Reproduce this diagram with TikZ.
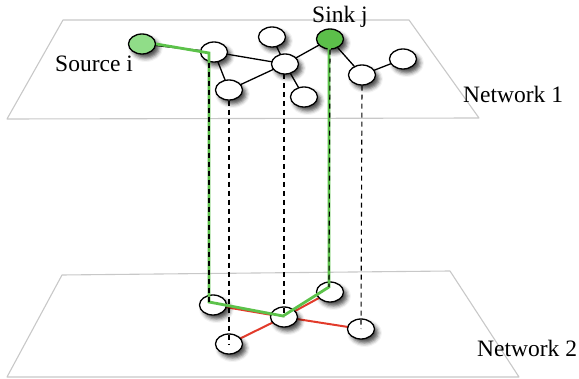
\documentclass[tikz,border=0pt]{standalone}
\usepackage{fontspec}
\setmainfont{Liberation Serif}
\usetikzlibrary{shapes.geometric,shadows.blur}
\definecolor{planegray}{HTML}{C8C8C8}
\definecolor{pathgreen}{HTML}{5CC24A}
\definecolor{srcgreen}{HTML}{90DD88}
\definecolor{sinkgreen}{HTML}{5CBF4A}
\definecolor{linkred}{HTML}{E23B2B}
\tikzset{
  plane/.style={draw=planegray, line width=1.1pt, line join=round},
  vtx/.style={ellipse, draw=black, line width=1.3pt, fill=white, inner sep=0pt,
    minimum width=27pt, minimum height=20pt,
    blur shadow={shadow xshift=3.5pt, shadow yshift=-4pt, shadow blur radius=4pt, shadow opacity=70}},
  link/.style={draw=black, line width=1.3pt},
  redlink/.style={draw=linkred, line width=2pt},
  route/.style={draw=pathgreen, line width=2.8pt, line join=miter},
  drop/.style={draw=black, line width=1.1pt, dash pattern=on 5pt off 4pt},
  lbl/.style={anchor=base west, inner sep=0pt, font=\fontsize{23.5}{27}\selectfont}
}
\begin{document}
\begin{tikzpicture}[x=1pt, y=-1pt]
\useasboundingbox (0,0) rectangle (579,379);

% the two layer planes
\draw[plane] (63,20) -- (409,20) -- (479,118) -- (7,119) -- cycle;
\draw[plane] (62,275) -- (450,271) -- (519,377) -- (7,377) -- cycle;

% layer 1 positions
\coordinate (ps) at (142,44);
\coordinate (pa) at (214,52);
\coordinate (pb) at (229,90);
\coordinate (pc) at (272,37);
\coordinate (pd) at (285,64);
\coordinate (pe) at (304,97);
\coordinate (pt) at (330,39);
\coordinate (pf) at (362,75);
\coordinate (pg) at (403,59);
% layer 2 positions
\coordinate (qa) at (213,305);
\coordinate (qb) at (229,344);
\coordinate (qc) at (284,317);
\coordinate (qd) at (330,292);
\coordinate (qe) at (361,329);

% layer 1 links
\draw[link] (ps) -- (pa);
\draw[link] (pa) -- (pb);
\draw[link] (pa) -- (pd);
\draw[link] (pb) -- (pd);
\draw[link] (pc) -- (pd);
\draw[link] (pd) -- (pe);
\draw[link] (pd) -- (pt);
\draw[link] (pt) -- (pf);
\draw[link] (pf) -- (pg);
% layer 2 links
\draw[redlink] (qa) -- (qc);
\draw[redlink] (qb) -- (qc);
\draw[redlink] (qc) -- (qd);
\draw[redlink] (qc) -- (qe);

% layer 1 nodes
\node[vtx, fill=srcgreen] (src) at (ps) {};
\node[vtx] (a) at (pa) {};
\node[vtx] (b) at (pb) {};
\node[vtx] (c) at (pc) {};
\node[vtx] (d) at (pd) {};
\node[vtx] (e) at (pe) {};
\node[vtx, fill=sinkgreen] (snk) at (pt) {};
\node[vtx] (f) at (pf) {};
\node[vtx] (g) at (pg) {};
% layer 2 nodes
\node[vtx] (a2) at (qa) {};
\node[vtx] (b2) at (qb) {};
\node[vtx] (c2) at (qc) {};
\node[vtx] (d2) at (qd) {};
\node[vtx] (e2) at (qe) {};

% route from source to sink through layer 2
\coordinate (r1) at (209,53);
\coordinate (r2) at (209,302);
\coordinate (r3) at (283,316);
\coordinate (r4) at (329,287);
\coordinate (r5) at (329,48);
\draw[route] (src.east) -- (r1) -- (r2) -- (r3) -- (r4) -- (r5) -- (snk.south);

% inter-layer correspondences
\draw[drop] (r1 |- a.south) -- (r2);
\draw[drop] (b.south) -- (b2.center);
\draw[drop] (284,74) -- (c2.center);
\draw[drop] (snk.south) -- (r4);
\draw[drop] (f.south) -- (e2.center);

% labels
\node[lbl] (lsrc) at (55,72) {Source i};
\node[lbl] (lsnk) at (312,23) {Sink j};
\node[lbl] (ln1) at (463,103) {Network 1};
\node[lbl] (ln2) at (477,357) {Network 2};
\end{tikzpicture}
\end{document}
